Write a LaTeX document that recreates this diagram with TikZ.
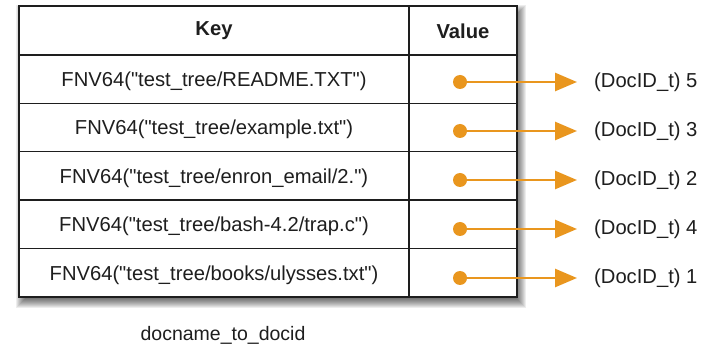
\documentclass[tikz,border=0pt]{standalone}
\usepackage{fontspec}
\setmainfont{Liberation Sans}
\usetikzlibrary{arrows.meta}
\definecolor{ptr}{RGB}{233,150,30}
\definecolor{ink}{RGB}{30,30,30}
\newcommand{\qt}{\textquotedbl}
\begin{document}
\begin{tikzpicture}[x=1pt,y=-1pt,
  grid/.style={draw=ink,line width=1.8pt},
  celltext/.style={font=\fontsize{20.2}{23}\selectfont,text=ink,inner sep=0pt},
  captext/.style={font=\fontsize{19.5}{22}\selectfont,text=ink,inner sep=0pt},
  headtext/.style={font=\fontsize{20.2}{23}\selectfont\bfseries,text=ink,inner sep=0pt},
  dot/.style={circle,fill=ptr,minimum size=14pt,inner sep=0pt},
  ptrline/.style={draw=ptr,line width=2.6pt,-{Triangle[length=22pt,width=18pt]},shorten >=17pt}]
\useasboundingbox (0,0) rectangle (715,347);
\fill[white] (0,0) rectangle (715,347);
% soft drop shadow below and right of the table
\foreach \k in {0,...,11}{
  \fill[black,opacity=0.07] (19+3-6+\k,6+5-6+\k) rectangle (517+3+6-\k,297+5+6-\k);
}
\fill[white] (19,6) rectangle (517,297);
% table grid
\draw[grid] (19,6) rectangle (517,297);
\draw[grid] (409,6) -- (409,297);
\foreach \y in {55,103.5,151.5,200,248.5}{
  \draw[grid] (19,\y) -- (517,\y);
}
% header
\node[headtext] (hk) at (214,31) {Key};
\node[headtext] (hv) at (463,31) {Value};
% rows
\foreach \i/\ty/\ay/\key/\val in {
  1/81/82/{FNV64(\qt test\_tree/README.TXT\qt)}/5,
  2/129.5/131/{FNV64(\qt test\_tree/example.txt\qt)}/3,
  3/178/180/{FNV64(\qt test\_tree/enron\_email/2.\qt)}/2,
  4/226.5/229/{FNV64(\qt test\_tree/bash-4.2/trap.c\qt)}/4,
  5/275/278/{FNV64(\qt test\_tree/books/ulysses.txt\qt)}/1}{
  \node[celltext] (k\i) at (214,\ty) {\key};
  \node[dot] (d\i) at (460,\ay) {};
  \node[celltext,anchor=west] (v\i) at (594,\ay) {(DocID\_t) \val};
  \draw[ptrline] (d\i.center) -- (v\i.west);
}
% caption
\node[captext] (cap) at (223,335) {docname\_to\_docid};
\end{tikzpicture}
\end{document}
